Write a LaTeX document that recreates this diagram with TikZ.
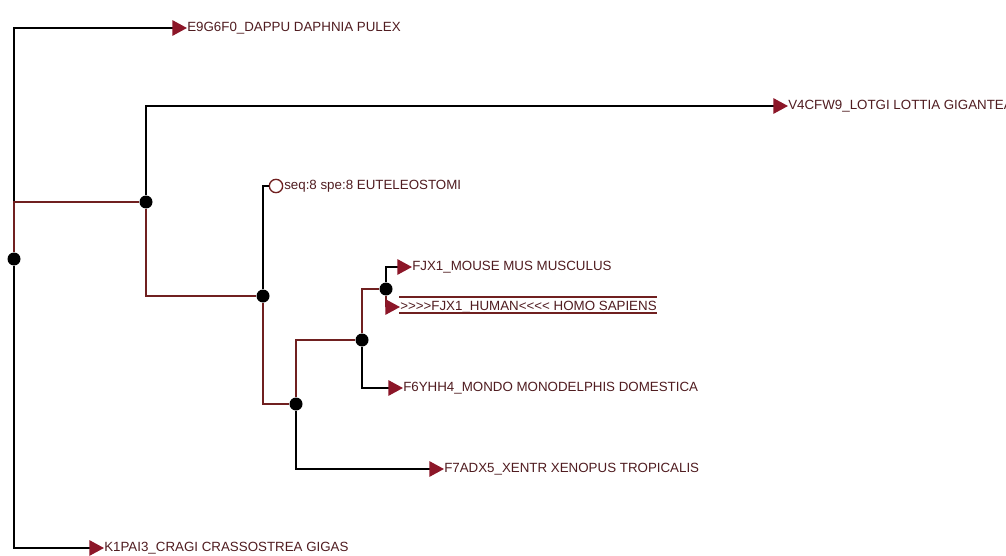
\documentclass[tikz,border=0pt]{standalone}
\usepackage{fontspec}
\setmainfont{Liberation Sans}[Ligatures=TeXOff]
\usetikzlibrary{arrows.meta}

\definecolor{leafred}{RGB}{140,22,40}
\definecolor{branchred}{RGB}{112,32,32}
\definecolor{labelbrown}{RGB}{80,28,32}

\tikzset{
  branch/.style={line width=1.5pt, black},
  redbranch/.style={line width=1.5pt, branchred},
  leaftip/.style={-{Triangle[length=11pt,width=11.5pt,color=leafred]}},
  inode/.style={circle, fill=black, inner sep=0pt, minimum size=9.75pt},
  opennode/.style={circle, draw=branchred, line width=1pt, fill=white, inner sep=0pt, minimum size=10pt},
  leaf/.style={anchor=west, inner sep=0pt, text=labelbrown, font=\fontsize{10}{12}\selectfont},
}

\begin{document}
\begin{tikzpicture}[x=0.75pt,y=-0.75pt]
	\useasboundingbox (0,0) rectangle (1006,556);
	\fill[white] (0,0) rectangle (1006,556);
	\clip (0,0) rectangle (1006,556);

	% inner nodes
	\node[inode] (root) at (14,259) {};
	\node[inode] (a) at (146,202) {};
	\node[inode] (b) at (263,296) {};
	\node[inode] (c) at (296,404) {};
	\node[inode] (d) at (362,340) {};
	\node[inode] (e) at (386,289) {};
	\node[opennode] (eut) at (276,186) {};
	\node[leaf] (eutlabel) at (284,186) {seq:8 spe:8 EUTELEOSTOMI};

	% leaves
	\node[leaf] (dappu) at (187,28) {E9G6F0\_DAPPU DAPHNIA PULEX};
	\node[leaf] (lotgi) at (788,106) {V4CFW9\_LOTGI LOTTIA GIGANTEA};
	\node[leaf] (mouse) at (412,267) {FJX1\_MOUSE MUS MUSCULUS};
	\node[leaf] (human) at (400,307) {>>>>FJX1\_HUMAN<<<< HOMO SAPIENS};
	\node[leaf] (mondo) at (403,388) {F6YHH4\_MONDO MONODELPHIS DOMESTICA};
	\node[leaf] (xentr) at (444,469) {F7ADX5\_XENTR XENOPUS TROPICALIS};
	\node[leaf] (cragi) at (104,548) {K1PAI3\_CRAGI CRASSOSTREA GIGAS};

	% branches
	\draw[branch,leaftip] (root) |- (dappu.west);
	\draw[branch,leaftip] (root) |- (cragi.west);
	\draw[redbranch] (root) |- (a);
	\draw[branch,leaftip] (a) |- (lotgi.west);
	\draw[redbranch] (a) |- (b);
	\draw[branch] (b) |- (eut);
	\draw[redbranch] (b) |- (c);
	\draw[redbranch] (c) |- (d);
	\draw[branch,leaftip] (c) |- (xentr.west);
	\draw[redbranch] (d) |- (e);
	\draw[branch,leaftip] (d) |- (mondo.west);
	\draw[branch,leaftip] (e) |- (mouse.west);
	\draw[redbranch,leaftip] (e) |- (human.west);

	% selection lines round the human label
	\draw[branchred, line width=0.8pt] ([shift={(-1,-10)}]human.west) -- ([shift={(0,-10)}]human.east);
	\draw[branchred, line width=0.8pt] ([shift={(-1,6)}]human.west) -- ([shift={(0,6)}]human.east);
\end{tikzpicture}
\end{document}
